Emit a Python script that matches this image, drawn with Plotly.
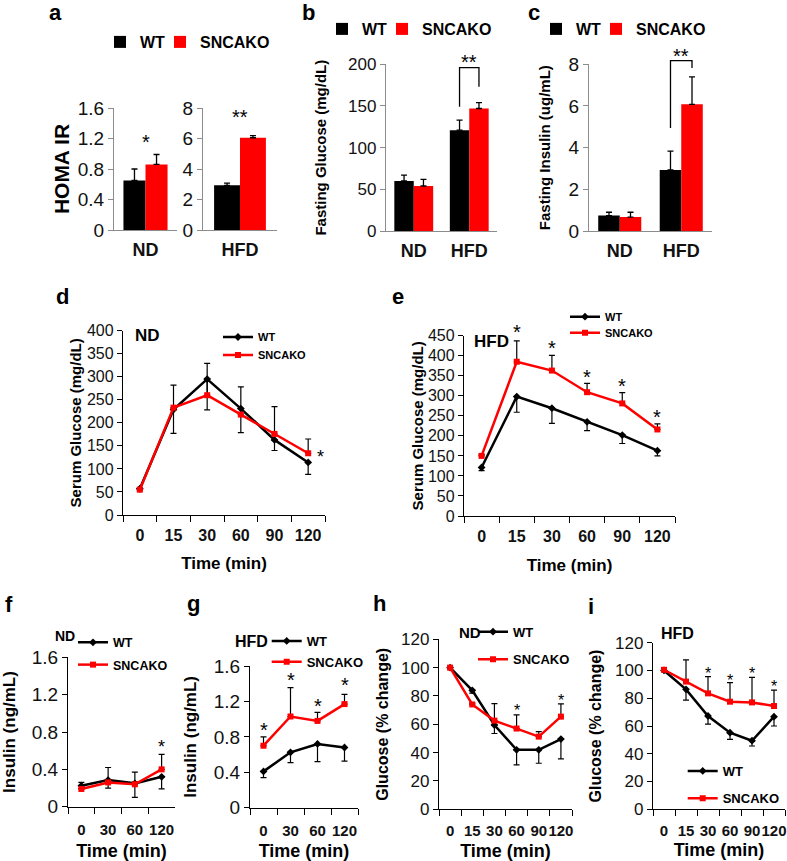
import plotly.graph_objects as go

# ------------------------------------------------------------------ data
diet = ["ND", "HFD"]
homa_wt = [0.65, 2.93]
homa_wt_err = [0.15, 0.15]
homa_ko = [0.86, 6.05]
homa_ko_err = [0.13, 0.14]

fglu_wt = [60, 121]
fglu_wt_err = [7, 12]
fglu_ko = [54, 147]
fglu_ko_err = [8, 7]

fins_wt = [0.74, 2.93]
fins_wt_err = [0.16, 0.90]
fins_ko = [0.67, 6.08]
fins_ko_err = [0.23, 1.32]

gtt_time = ["0", "15", "30", "60", "90", "120"]
gtt_nd_wt = [57, 229, 295, 231, 163, 114]
gtt_nd_wt_err = [3, 52, 67, 52, 23, 26]
gtt_nd_ko = [55, 233, 260, 218, 176, 134]
gtt_nd_ko_err = [3, 49, 69, 60, 59, 31]

gtt_hfd_wt = [121, 298, 269, 235, 202, 163]
gtt_hfd_wt_err = [8, 39, 38, 22, 21, 13]
gtt_hfd_ko = [150, 385, 363, 309, 281, 216]
gtt_hfd_ko_err = [3, 52, 38, 22, 27, 14]

ins_time = ["0", "30", "60", "120"]
ins_nd_wt = [0.225, 0.285, 0.25, 0.32]
ins_nd_wt_err = [0.03, 0.085, 0.15, 0.13]
ins_nd_ko = [0.19, 0.26, 0.24, 0.40]
ins_nd_ko_err = [0.07, 0.16, 0.13, 0.16]

ins_hfd_wt = [0.41, 0.625, 0.72, 0.68]
ins_hfd_wt_err = [0.07, 0.115, 0.20, 0.153]
ins_hfd_ko = [0.70, 1.03, 0.98, 1.17]
ins_hfd_ko_err = [0.10, 0.325, 0.097, 0.11]

itt_time = ["0", "15", "30", "60", "90", "120"]
itt_nd_wt = [100, 84, 59.5, 42, 42, 49.6]
itt_nd_wt_err = [0, 2, 6, 10.7, 9.5, 14]
itt_nd_ko = [100, 74, 62.6, 57, 51.3, 65.4]
itt_nd_ko_err = [0, 1, 12, 9.6, 3.5, 9]

itt_hfd_wt = [100, 86.4, 67.2, 55.2, 49.4, 66.7]
itt_hfd_wt_err = [0, 7.7, 5.8, 4.8, 3.8, 6.7]
itt_hfd_ko = [100.5, 92, 83.5, 77.5, 77, 74.4]
itt_hfd_ko_err = [0, 15.6, 12, 13.7, 18, 11.5]

# significance markers (category, height of the asterisk)
sig_a = [("ND", 1.21, "*"), ("HFD", 7.74, "**")]
sig_b = [("HFD", 208, "**")]
sig_c = [("HFD", 8.64, "**")]
sig_d = [("120", 135, "*")]
sig_e = [("15", 472, "*"), ("30", 431, "*"), ("60", 358, "*"), ("90", 337, "*"), ("120", 259, "*")]
sig_f = [("120", 0.686, "*")]
sig_g = [("0", 0.926, "*"), ("30", 1.50, "*"), ("60", 1.197, "*"), ("120", 1.442, "*")]
sig_h = [("60", 72.5, "*"), ("120", 79.5, "*")]
sig_i = [("30", 100.8, "*"), ("60", 95.5, "*"), ("90", 100.3, "*"), ("120", 91.2, "*")]

# bracket in b and c (data units): WT leg start, top, KO leg end
bracket_b = (149, 196, 173)
bracket_c = (4.94, 8.18, 7.82)

# ------------------------------------------------------------------ layout helpers
W, H = 787, 861
FONT = "Liberation Sans"
RED = "#ff0000"
BLK = "#000000"
GRAY = "#8c8c8c"
BARGAP = 0.3


def X(px):
    return px / W


def Y(py):
    return 1 - py / H


fig = go.Figure()


def add_bars(n, cats, wt, wte, ko, koe, legs, showleg):
    for (name, vals, err, col), lg in zip((("WT", wt, wte, BLK), ("SNCAKO", ko, koe, RED)), legs):
        fig.add_trace(go.Bar(
            x=cats, y=vals, name=name,
            marker=dict(color=col, line=dict(width=0)),
            error_y=dict(type="data", symmetric=False, array=err,
                         arrayminus=[0] * len(err), color=BLK, thickness=1.3, width=3),
            xaxis="x" + n, yaxis="y" + n, legend=lg, showlegend=showleg,
            hoverinfo="skip"))


def add_lines(n, cats, wt, wte, ko, koe, leg_wt, leg_ko, lw=2.5):
    fig.add_trace(go.Scatter(
        x=cats, y=wt, name="WT", mode="lines+markers",
        line=dict(color=BLK, width=lw),
        marker=dict(symbol="diamond", size=6, color=BLK),
        error_y=dict(type="data", symmetric=False, array=[0] * len(wte),
                     arrayminus=wte, color=BLK, thickness=1.2, width=3),
        cliponaxis=False, xaxis="x" + n, yaxis="y" + n, legend=leg_wt))
    fig.add_trace(go.Scatter(
        x=cats, y=ko, name="SNCAKO", mode="lines+markers",
        line=dict(color=RED, width=lw),
        marker=dict(symbol="square", size=6, color=RED),
        error_y=dict(type="data", symmetric=False, array=koe,
                     arrayminus=[0] * len(koe), color=BLK, thickness=1.2, width=3),
        cliponaxis=False, xaxis="x" + n, yaxis="y" + n, legend=leg_ko))


def yaxis(n, ypx, rng, dtick, fs, lc, title="", tfs=15, standoff=5):
    d = dict(domain=[Y(ypx[0]), Y(ypx[1])], range=rng, dtick=dtick, tick0=0,
             anchor="x" + n, showline=True, linecolor=lc, linewidth=1.3,
             ticks="outside", ticklen=5, tickwidth=1.2, tickcolor=lc,
             tickfont=dict(family=FONT, size=fs, color="#111"),
             showgrid=False, zeroline=False, fixedrange=True, automargin=False)
    if title:
        d["title"] = dict(text=title, standoff=standoff,
                          font=dict(family=FONT, size=tfs, weight="bold", color="#000"))
    return d


def xaxis(n, xpx, ncat, fs, lc, ticks, standoff_lab, title="", tfs=17, standoff=5):
    d = dict(domain=[X(xpx[0]), X(xpx[1])], type="category", range=[-0.5, ncat - 0.5],
             anchor="y" + n, showline=True, linecolor=lc, linewidth=1.3,
             ticks=ticks, ticklen=6, tickwidth=1.2, tickcolor=lc, tickson="boundaries",
             tickangle=0,
             tickfont=dict(family=FONT, size=fs, weight="bold", color="#111"),
             ticklabelstandoff=standoff_lab,
             showgrid=False, zeroline=False, fixedrange=True, automargin=False)
    if title:
        d["title"] = dict(text=title, standoff=standoff,
                          font=dict(family=FONT, size=tfs, weight="bold", color="#000"))
    return d


# ------------------------------------------------------------------ traces
add_bars("", ["ND"], homa_wt[:1], homa_wt_err[:1], homa_ko[:1], homa_ko_err[:1], ("legend", "legend2"), True)
add_bars("2", ["HFD"], homa_wt[1:], homa_wt_err[1:], homa_ko[1:], homa_ko_err[1:], ("legend", "legend2"), False)
add_bars("3", diet, fglu_wt, fglu_wt_err, fglu_ko, fglu_ko_err, ("legend3", "legend4"), True)
add_bars("4", diet, fins_wt, fins_wt_err, fins_ko, fins_ko_err, ("legend5", "legend6"), True)

add_lines("5", gtt_time, gtt_nd_wt, gtt_nd_wt_err, gtt_nd_ko, gtt_nd_ko_err, "legend7", "legend8")
add_lines("6", gtt_time, gtt_hfd_wt, gtt_hfd_wt_err, gtt_hfd_ko, gtt_hfd_ko_err, "legend9", "legend10")
add_lines("7", ins_time, ins_nd_wt, ins_nd_wt_err, ins_nd_ko, ins_nd_ko_err, "legend11", "legend12")
add_lines("8", ins_time, ins_hfd_wt, ins_hfd_wt_err, ins_hfd_ko, ins_hfd_ko_err, "legend13", "legend14")
add_lines("9", itt_time, itt_nd_wt, itt_nd_wt_err, itt_nd_ko, itt_nd_ko_err, "legend15", "legend16")
add_lines("10", itt_time, itt_hfd_wt, itt_hfd_wt_err, itt_hfd_ko, itt_hfd_ko_err, "legend17", "legend18")

# ------------------------------------------------------------------ axes
lay = {}
# a
lay["xaxis"] = xaxis("", (114, 177), 1, 18, GRAY, "", 3)
lay["yaxis"] = yaxis("", (230, 108), [0, 1.6], 0.4, 19, GRAY, "HOMA IR", 21, 2)
lay["xaxis2"] = xaxis("2", (203, 277), 1, 18, GRAY, "", 3)
lay["yaxis2"] = yaxis("2", (230, 108), [0, 8], 2, 19, GRAY)
# b
lay["xaxis3"] = xaxis("3", (386, 497), 2, 18, GRAY, "", 3)
lay["yaxis3"] = yaxis("3", (231, 64.3), [0, 200], 50, 17, GRAY, "Fasting Glucose (mg/dL)", 15, 17)
# c
lay["xaxis4"] = xaxis("4", (589, 712), 2, 18, GRAY, "", 3)
lay["yaxis4"] = yaxis("4", (231, 64.3), [0, 8], 2, 19, GRAY, "Fasting Insulin (ug/mL)", 15, 14)
# d
lay["xaxis5"] = xaxis("5", (123, 325), 6, 16, BLK, "outside", 6, "Time (min)", 17, 13)
lay["yaxis5"] = yaxis("5", (515, 330.7), [0, 400], 50, 16, BLK, "Serum Glucose (mg/dL)", 15, 1)
# e
lay["xaxis6"] = xaxis("6", (464, 675), 6, 16, BLK, "outside", 6, "Time (min)", 17, 14)
lay["yaxis6"] = yaxis("6", (516, 335.7), [0, 450], 50, 16, BLK, "Serum Glucose (mg/dL)", 15, 0)
# f
lay["xaxis7"] = xaxis("7", (68, 175), 4, 15, BLK, "outside", 9, "Time (min)", 18, 7)
lay["yaxis7"] = yaxis("7", (806.7, 657.3), [0, 1.6], 0.4, 19, BLK, "Insulin (ng/mL)", 17, 21)
# g
lay["xaxis8"] = xaxis("8", (250, 358), 4, 15, BLK, "outside", 9, "Time (min)", 18, 6)
lay["yaxis8"] = yaxis("8", (807.7, 666), [0, 1.6], 0.4, 19, BLK, "Insulin (ng/mL)", 17, 12)
# h
lay["xaxis9"] = xaxis("9", (439, 572), 6, 15, BLK, "outside", 8, "Time (min)", 18, 5)
lay["yaxis9"] = yaxis("9", (809.3, 639.3), [0, 120], 20, 17, BLK, "Glucose (% change)", 16, 8)
# i
lay["xaxis10"] = xaxis("10", (653, 785), 6, 15, BLK, "outside", 8, "Time (min)", 18, 4)
lay["yaxis10"] = yaxis("10", (809.3, 642.7), [0, 120], 20, 17, BLK, "Glucose (% change)", 16, 9)


# ------------------------------------------------------------------ legends
TXT_OFF = 40   # legend box left -> entry text start


def legend(text_x, ypx, fs):
    return dict(x=X(text_x - TXT_OFF), y=Y(ypx), xanchor="left", yanchor="middle",
                orientation="v",
                font=dict(family=FONT, size=fs, weight="bold", color="#000"),
                bgcolor="rgba(0,0,0,0)", borderwidth=0, itemwidth=30,
                tracegroupgap=0, itemclick=False, itemdoubleclick=False)


bar_leg = [(140, 200, 42), (362, 422, 29), (576, 636, 29)]
k = 1
for t1, t2, yy in bar_leg:
    lay["legend" if k == 1 else "legend%d" % k] = legend(t1, yy, 16)
    lay["legend%d" % (k + 1)] = legend(t2, yy, 16)
    k += 2

line_leg = [(258, 337, 355, 11), (605, 316.7, 332.7, 11), (113, 642.7, 665, 12.5),
            (306.7, 641, 661.7, 13), (513, 631.7, 659.3, 13), (722.7, 771, 798.3, 13)]
for tx, y1, y2, fs in line_leg:
    lay["legend%d" % k] = legend(tx, y1, fs)
    lay["legend%d" % (k + 1)] = legend(tx, y2, fs)
    k += 2

# ------------------------------------------------------------------ annotations
ann = []


def star_set(n, cats, sigs, ymax, fs):
    for c, yv, txt in sigs:
        ann.append(dict(x=cats.index(c), y=yv / ymax, xref="x" + n, yref="y%s domain" % n,
                        text=txt, showarrow=False,
                        font=dict(family=FONT, size=fs, color="#000"),
                        yshift=-0.233 * fs, xanchor="center", yanchor="middle",
                        xshift=(12 if n == "5" else 0)))


star_set("", ["ND"], sig_a[:1], 1.6, 20)
star_set("2", ["HFD"], sig_a[1:], 8, 20)
star_set("3", diet, sig_b, 200, 20)
star_set("4", diet, sig_c, 8, 20)
star_set("5", gtt_time, sig_d, 400, 18)
star_set("6", gtt_time, sig_e, 450, 20)
star_set("7", ins_time, sig_f, 1.6, 18)
star_set("8", ins_time, sig_g, 1.6, 20)
star_set("9", itt_time, sig_h, 120, 16)
star_set("10", itt_time, sig_i, 120, 16)

for lab, cx, cy in [("a", 55, 13), ("b", 308, 13), ("c", 534, 13), ("d", 62, 296), ("e", 398, 296),
                    ("f", 9, 604), ("g", 193, 603), ("h", 379, 603), ("i", 591, 606)]:
    ann.append(dict(x=X(cx), y=Y(cy), xref="paper", yref="paper", text=lab, showarrow=False,
                    font=dict(family=FONT, size=22, weight="bold", color="#000"),
                    xanchor="center", yanchor="middle"))

for lab, cx, cy, fs in [("ND", 147, 335, 17), ("HFD", 491, 341, 17), ("ND", 65, 636, 14),
                        ("HFD", 251, 641, 16), ("ND", 470, 632, 15), ("HFD", 677, 633, 16)]:
    ann.append(dict(x=X(cx), y=Y(cy), xref="paper", yref="paper", text=lab, showarrow=False,
                    font=dict(family=FONT, size=fs, weight="bold", color="#000"),
                    xanchor="center", yanchor="middle"))

# ------------------------------------------------------------------ brackets (b, c)
shapes = []
w_bar = (1 - BARGAP) / 2
hfd_i = diet.index("HFD")


def bracket(n, vals, ymax):
    x0 = hfd_i - w_bar / 2
    x1 = hfd_i + w_bar / 2
    y0, ytop, y1 = (v / ymax for v in vals)
    shapes.append(dict(type="path", xref="x" + n, yref="y%s domain" % n,
                       path="M%f,%f L%f,%f L%f,%f L%f,%f" % (x0, y0, x0, ytop, x1, ytop, x1, y1),
                       line=dict(color=BLK, width=1.3)))


bracket("3", bracket_b, 200)
bracket("4", bracket_c, 8)

fig.update_layout(
    width=W, height=H, margin=dict(l=0, r=0, t=0, b=0, autoexpand=False),
    paper_bgcolor="white", plot_bgcolor="white",
    barmode="group", bargap=BARGAP, bargroupgap=0,
    font=dict(family=FONT, color="#000"),
    annotations=ann, shapes=shapes, **lay)

fig.write_html("out.html", config={"displayModeBar": False},
               post_script="document.body.style.margin='0';document.body.style.overflow='hidden';")
